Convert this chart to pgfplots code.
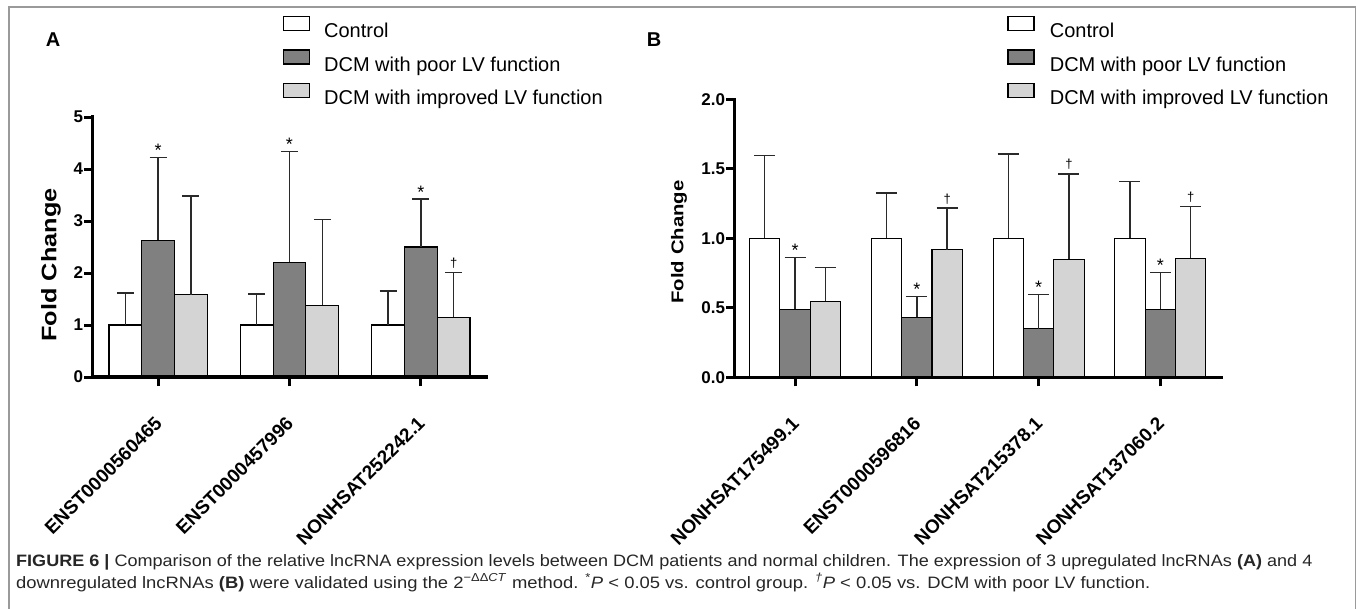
\documentclass[border=0pt]{standalone}
\usepackage{fontspec}
\setmainfont{Liberation Sans}
\usepackage{graphicx}
\usepackage{pgfplots}
\pgfplotsset{compat=1.18}
\usepackage{pgfplotstable}

\definecolor{poorc}{HTML}{808080}
\definecolor{imprc}{HTML}{D4D4D4}
\definecolor{framec}{HTML}{9A9A9A}
\definecolor{errc}{HTML}{2A2A2A}

\pgfplotstableread{
x ctrl ctrlE poor poorE imp impE
0 1.00 0.62 2.63 1.59 1.58 1.90
1 1.00 0.60 2.21 2.13 1.38 1.65
2 1.00 0.65 2.50 0.92 1.15 0.86
}\dataA

\pgfplotstableread{
x ctrl ctrlE poor poorE imp impE
0 1.00 0.595 0.490 0.373 0.547 0.242
1 1.00 0.324 0.432 0.148 0.918 0.298
2 1.00 0.607 0.348 0.249 0.849 0.614
3 1.00 0.408 0.490 0.263 0.856 0.372
}\dataB

\pgfplotsset{
  barstyle/.style={
    ybar=0pt, scale only axis, anchor=south west, clip=false, axis on top,
    axis x line*=bottom, axis y line*=left,
    axis line style={line width=3.2pt, line cap=rect},
    tick align=outside, major tick length=8pt,
    tick style={line width=3pt, black},
    major x tick style={line width=3pt, black, /pgfplots/major tick length=9pt},
    x tick style={line width=3pt, black},
    /pgf/number format/assume math mode=true,
    yticklabel style={font=\bfseries\fontsize{17}{17}\selectfont, inner sep=1pt},
    xticklabel style={yshift=-35pt, xshift=0.5pt, rotate=45, anchor=east, inner sep=0pt, font=\bfseries\fontsize{19}{19}\selectfont},
    legend cell align=left,
    legend image code/.code={\draw[draw=black, line width=1.2pt, ##1] (0pt,0pt) rectangle (26pt,14pt);},
  },
  errA/.style={
    /pgfplots/error bars/y dir=plus,
    /pgfplots/error bars/y explicit,
    /pgfplots/error bars/error bar style={line width=1.4pt, errc},
    /pgfplots/error bars/error mark options={rotate=90, line width=1.6pt, errc, mark size=#1},
  },
}
\tikzset{
  sigstar/.style={anchor=base, font=\fontsize{18}{18}\selectfont, yshift=1pt},
  sigdag/.style={anchor=base, font=\fontsize{13}{13}\selectfont, yshift=5pt},
}

\begin{document}
\begin{tikzpicture}[x=1pt,y=1pt]
\useasboundingbox (0,0) rectangle (1360,608);
\draw[framec, line width=1.8pt] (8.7,-5) -- (8.7,600.7) -- (1355.5,600.7) -- (1355.5,-5);

% Panel A
\begin{axis}[barstyle,
  at={(92.4pt,231pt)}, width=394.2pt, height=260pt,
  bar width=32.75pt,
  xmin=-0.5, xmax=2.5, ymin=0, ymax=5,
  xtick={0,1,2},
  xticklabels={ENST0000560465, ENST0000457996, NONHSAT252242.1},
  ytick={0,1,2,3,4,5},
  legend style={draw=none, fill=none, at={(0.4828,1.389)}, anchor=north west,
    inner sep=0pt, outer sep=0pt, row sep=11.7pt, column sep=14.2pt,
    font=\fontsize{20}{20}\selectfont,
    nodes={inner sep=0pt, text height=14.3pt, text depth=0pt}},
]
\addplot[fill=white, draw=black, line width=1.1pt, errA=8.5pt] table[x=x, y=ctrl, y error=ctrlE]{\dataA};
\addplot[fill=poorc, draw=black, line width=1.1pt, errA=8.5pt] table[x=x, y=poor, y error=poorE]{\dataA};
\addplot[fill=imprc, draw=black, line width=1.1pt, errA=8.5pt] table[x=x, y=imp, y error=impE]{\dataA};
\legend{Control, DCM with poor LV function, DCM with improved LV function}
\node[sigstar] at (axis cs:0,4.22) {*};
\node[sigstar] at (axis cs:1,4.34) {*};
\node[sigstar] at (axis cs:2,3.42) {*};
\node[sigdag] at (axis cs:2.25,2.01) {†};
\end{axis}

% Panel B
\begin{axis}[barstyle,
  at={(734.2pt,230.7pt)}, width=487pt, height=278pt,
  bar width=30.35pt,
  xmin=-0.5, xmax=3.5, ymin=0, ymax=2,
  xtick={0,1,2,3},
  xticklabels={NONHSAT175499.1, ENST0000596816, NONHSAT215378.1, NONHSAT137060.2},
  ytick={0,0.5,1,1.5,2},
  yticklabel style={/pgf/number format/.cd, fixed, fixed zerofill, precision=1},
  legend style={draw=none, fill=none, at={(0.561,1.300)}, anchor=north west,
    inner sep=0pt, outer sep=0pt, row sep=11.7pt, column sep=15.2pt,
    font=\fontsize{20}{20}\selectfont,
    nodes={inner sep=0pt, text height=14.3pt, text depth=0pt}},
]
\addplot[fill=white, draw=black, line width=1.1pt, errA=10.5pt] table[x=x, y=ctrl, y error=ctrlE]{\dataB};
\addplot[fill=poorc, draw=black, line width=1.1pt, errA=10.5pt] table[x=x, y=poor, y error=poorE]{\dataB};
\addplot[fill=imprc, draw=black, line width=1.1pt, errA=10.5pt] table[x=x, y=imp, y error=impE]{\dataB};
\legend{Control, DCM with poor LV function, DCM with improved LV function}
\node[sigstar] at (axis cs:0,0.863) {*};
\node[sigstar] at (axis cs:1,0.580) {*};
\node[sigstar] at (axis cs:2,0.597) {*};
\node[sigstar] at (axis cs:3,0.753) {*};
\node[sigdag] at (axis cs:1.25,1.216) {†};
\node[sigdag] at (axis cs:2.25,1.463) {†};
\node[sigdag] at (axis cs:3.25,1.228) {†};
\end{axis}

% panel letters and y labels
\node[font=\bfseries\fontsize{20}{20}\selectfont] at (53,568) {A};
\node[font=\bfseries\fontsize{20}{20}\selectfont] at (654,568) {B};
\node[rotate=90, font=\bfseries\fontsize{21}{21}\selectfont] at (51,343) {\resizebox{153pt}{\height}{Fold Change}};
\node[rotate=90, font=\bfseries\fontsize{17}{17}\selectfont] at (679,366) {\resizebox{123pt}{\height}{Fold Change}};

% caption
\node[anchor=base west, inner sep=0pt, font=\fontsize{16.5}{16.5}\selectfont, text=black!85] at (16,42)
  {\resizebox{1296pt}{\height}{\textbf{FIGURE 6 |} Comparison of the relative lncRNA expression levels between DCM patients and normal children. The expression of 3 upregulated lncRNAs \textbf{(A)} and 4}};
\node[anchor=base west, inner sep=0pt, font=\fontsize{16.5}{16.5}\selectfont, text=black!85] at (16,20)
  {\resizebox{1134pt}{\height}{downregulated lncRNAs \textbf{(B)} were validated using the 2\textsuperscript{−ΔΔ\textit{CT}} method. \textsuperscript{*}\textit{P} < 0.05 vs. control group. \textsuperscript{\textit{†}}\textit{P} < 0.05 vs. DCM with poor LV function.}};
\end{tikzpicture}
\end{document}
